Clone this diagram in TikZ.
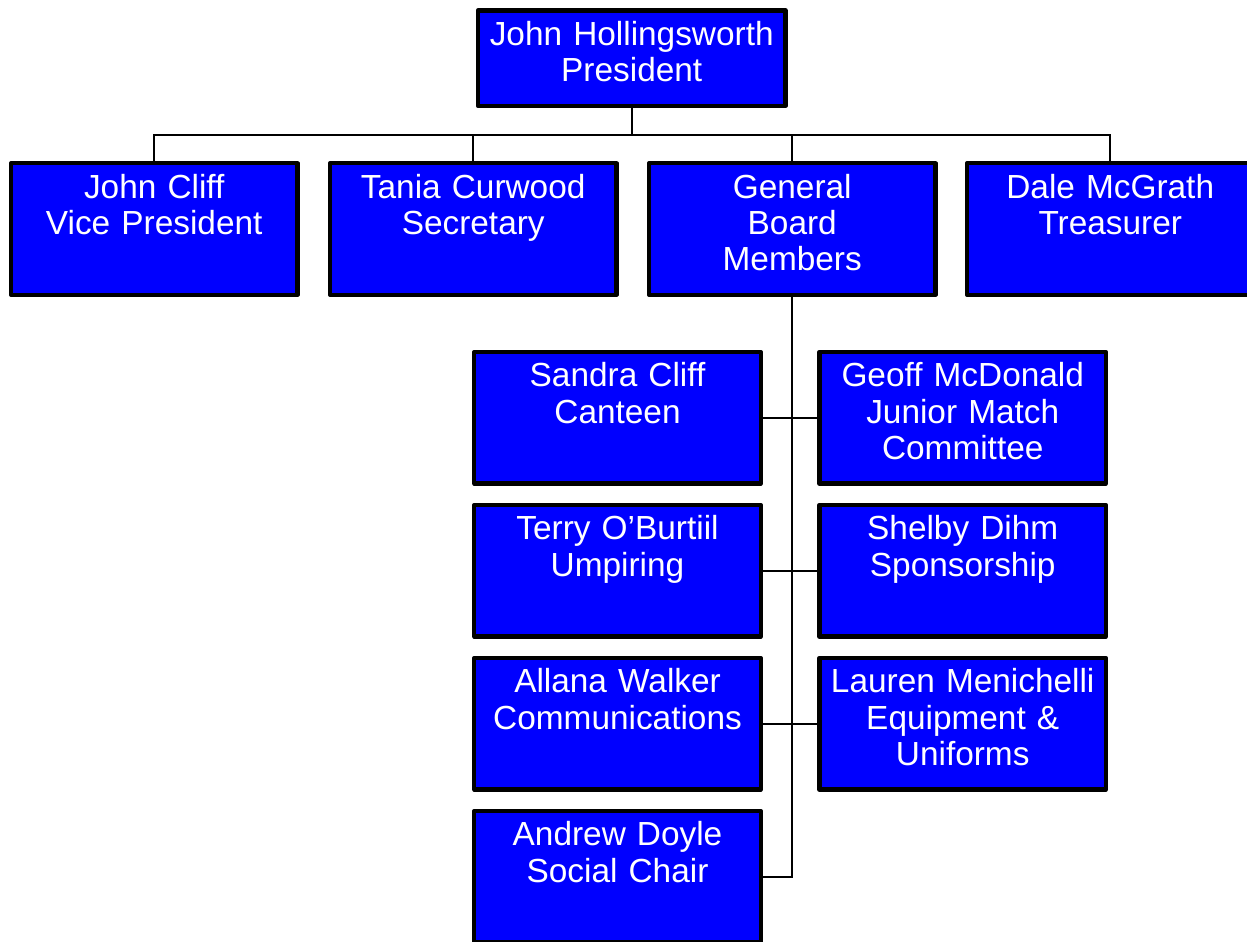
\documentclass[tikz,border=0pt]{standalone}
\usepackage{fontspec}
\setmainfont{Liberation Sans}
\usetikzlibrary{positioning}
\definecolor{boxblue}{RGB}{0,0,255}

\begin{document}
\begin{tikzpicture}[x=0.02cm,y=-0.02cm,
		box/.style={draw, line width=0.085cm, line join=round, fill=boxblue, text=white,
			font=\fontsize{19}{20.5}\selectfont, align=center, anchor=north west, outer sep=0pt,
			inner xsep=0.1cm, inner ysep=0.22cm, text width=5.53cm, text height=0.48cm, text depth=1.71cm},
		link/.style={line width=0.04cm}]
		\useasboundingbox (0,0) rectangle (1247,942);
		\node[box, text width=5.95cm, text depth=0.99cm] (pres) at (478,10.5) {John Hollingsworth\\President};
		\node[box] (vp) at (11,163.3) {John Cliff\\Vice President};
		\node[box] (sec) at (330,163.3) {Tania Curwood\\Secretary};
		\node[box] (gbm) at (649,163.3) {General\\Board\\Members};
		\node[box] (tre) at (967,163.3) {Dale McGrath\\Treasurer};
		\foreach \n/\y/\txt in {canteen/352/{Sandra Cliff\\Canteen},
				umpiring/505/{Terry O'Burtiil\\Umpiring},
				comms/658/{Allana Walker\\Communications},
				social/811/{Andrew Doyle\\Social Chair}}{
			\node[box] (\n) at (474.3,\y) {\txt};
			}
		\foreach \n/\y/\txt in {junior/352/{Geoff McDonald\\Junior Match\\Committee},
				sponsor/505/{Shelby Dihm\\Sponsorship},
				equip/658/{Lauren Menichelli\\Equipment \&\\Uniforms}}{
			\node[box] (\n) at (819.5,\y) {\txt};
			}
		\coordinate[below=0.58cm of pres.south] (bus);
		\draw[link] (pres.south) -- (bus);
		\foreach \n in {vp,sec,gbm,tre}{
			\draw[link] (\n.north) |- (bus);
			}
		\draw[link] (gbm.south) |- (social.east);
		\draw[link] (canteen.east) -- (junior.west);
		\draw[link] (umpiring.east) -- (sponsor.west);
		\draw[link] (comms.east) -- (equip.west);
\end{tikzpicture}
\end{document}
